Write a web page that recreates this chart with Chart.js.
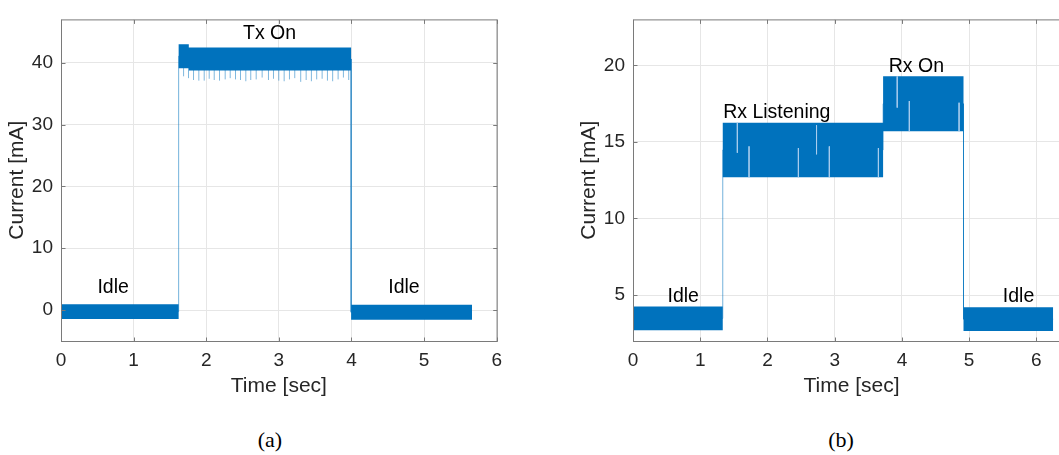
<!DOCTYPE html>
<html>
<head>
<meta charset="utf-8">
<title>Current draw</title>
<script src="https://cdn.jsdelivr.net/npm/chart.js@4.4.1/dist/chart.umd.min.js"></script>
<style>
    html, body { margin: 0; padding: 0; background: #fff; width: 1059px; height: 455px; overflow: hidden; }
    .panel { position: absolute; top: 0; }
    #chartA { left: 0; }
    #chartB { left: 572px; }
    .caption {
        position: absolute; top: 428px; width: 100px; text-align: center;
        font-family: "Liberation Serif", "Times New Roman", serif; font-size: 22px; line-height: 24px; color: #000;
    }
</style>
</head>
<body>
<canvas id="chartA" class="panel" width="510" height="400"></canvas>
<canvas id="chartB" class="panel" width="498" height="400"></canvas>
<div class="caption" style="left:220px">(a)</div>
<div class="caption" style="left:791px">(b)</div>

<script>
// ========================================
// (a) Transmit - current levels per state
// ========================================
const aSegStart = [0, 1.62, 1.76, 3.995];
const aSegEnd   = [1.62, 1.76, 3.995, 5.66];
const aSegLow   = [-1.45, 39.1, 38.75, -1.55];
const aSegHigh  = [0.95, 43.0, 42.45, 0.85];

// short downward glitches during Tx
const aSpikeTime  = [1.688, 1.756, 1.825, 1.898, 1.972, 2.041, 2.110, 2.183, 2.261, 2.330, 2.403,
                     2.472, 2.545, 2.613, 2.688, 2.770, 2.857, 2.926, 2.999, 3.073, 3.146, 3.219,
                     3.301, 3.376, 3.448, 3.521, 3.596, 3.669, 3.741, 3.816, 3.889, 3.962];
const aSpikeValue = [37.8, 37.5, 37.2, 37.1, 37.1, 37.4, 37.2, 37.1, 37.3, 37.5, 37.3,
                     37.2, 37.0, 37.2, 37.3, 37.6, 37.2, 37.4, 37.1, 37.0, 37.3, 37.5,
                     36.9, 37.2, 37.0, 37.3, 37.4, 37.1, 37.0, 37.3, 37.6, 37.2];

const aXTicks = [0, 1, 2, 3, 4, 5, 6];
const aYTicks = [0, 10, 20, 30, 40];
const aLabels = ['Tx On', 'Idle', 'Idle'];
const aLabelX = [2.872, 0.718, 4.723];
const aLabelY = [43.9, 2.8, 2.8];

// ========================================
// (b) Receive - current levels per state
// ========================================
const bSegStart = [0, 1.335, 3.72, 4.916];
const bSegEnd   = [1.335, 3.72, 4.916, 6.25];
const bSegLow   = [2.7, 12.7, 15.7, 2.65];
const bSegHigh  = [4.25, 16.25, 19.28, 4.2];

// pale streaks inside the Rx bands
const bStreakTime   = [1.552, 1.726, 2.46, 2.73, 2.92, 3.65, 3.93, 4.11, 4.85];
const bStreakTop    = [16.25, 14.71, 14.6, 16.09, 14.71, 14.6, 19.28, 17.67, 17.56];
const bStreakBottom = [14.29, 12.7, 12.7, 14.19, 12.7, 12.7, 17.24, 15.7, 15.7];

const bXTicks = [0, 1, 2, 3, 4, 5, 6];
const bYTicks = [5, 10, 15, 20];
const bLabels = ['Idle', 'Rx Listening', 'Rx On', 'Idle'];
const bLabelX = [0.747, 2.139, 4.215, 5.734];
const bLabelY = [4.53, 16.56, 19.54, 4.53];

const FONT = '"Liberation Sans", Arial, Helvetica, sans-serif';
const BLUE = '#0072BD';
const AXIS_GREY = '#262626';

// Upper / lower envelope of the noisy trace (step shaped), filled between,
// plus the thin trace that shows the switching edges
function buildBands(segStart, segEnd, segLow, segHigh) {
    const upper = [], lower = [], trace = [];
    segStart.forEach((s, i) => {
        upper.push({ x: s, y: segHigh[i] }, { x: segEnd[i], y: segHigh[i] });
        lower.push({ x: s, y: segLow[i] }, { x: segEnd[i], y: segLow[i] });
        const mid = (segLow[i] + segHigh[i]) / 2;
        trace.push({ x: s, y: mid }, { x: segEnd[i], y: mid });
    });
    return [
        { data: upper, borderColor: 'rgba(0,0,0,0)', borderWidth: 1, pointRadius: 0, fill: false, order: 1 },
        { data: lower, borderColor: 'rgba(0,0,0,0)', borderWidth: 1, pointRadius: 0, fill: '-1', backgroundColor: BLUE, order: 1 },
        { data: trace, borderColor: 'rgba(0, 114, 189, 0.55)', borderWidth: 1, pointRadius: 0, fill: false, order: 3 }
    ];
}

// vertical line pieces separated by gaps
function buildTickLines(times, from, to, color, order) {
    const pts = [];
    times.forEach((t, i) => {
        pts.push({ x: t, y: from[i] }, { x: t, y: to[i] }, { x: t, y: null });
    });
    return {
        data: pts,
        borderColor: color,
        borderWidth: 1,
        pointRadius: 0,
        fill: false,
        spanGaps: false,
        order: order
    };
}

// MATLAB style box, inward ticks and the text annotations
function overlay(xTicks, yTicks, texts, tx, ty) {
    return {
        id: 'overlay',
        afterDatasetsDraw(chart) {
            const { ctx, chartArea: area, scales: { x, y } } = chart;
            ctx.save();
            ctx.strokeStyle = '#7a7a7a';
            ctx.lineWidth = 1;
            const L = area.left + 0.5, R = area.right + 0.5, T = area.top + 0.5, B = area.bottom + 0.5;
            ctx.strokeRect(L, T, R - L, B - T);
            ctx.beginPath();
            xTicks.forEach(v => {
                const px = Math.round(x.getPixelForValue(v)) + 0.5;
                ctx.moveTo(px, B); ctx.lineTo(px, B - 4);
                ctx.moveTo(px, T); ctx.lineTo(px, T + 4);
            });
            yTicks.forEach(v => {
                const py = Math.round(y.getPixelForValue(v)) + 0.5;
                ctx.moveTo(L, py); ctx.lineTo(L + 4, py);
                ctx.moveTo(R, py); ctx.lineTo(R - 4, py);
            });
            ctx.stroke();

            ctx.fillStyle = '#000';
            ctx.font = '19.5px ' + FONT;
            ctx.textAlign = 'center';
            ctx.textBaseline = 'alphabetic';
            texts.forEach((txt, i) => {
                ctx.fillText(txt, x.getPixelForValue(tx[i]), y.getPixelForValue(ty[i]));
            });
            ctx.restore();
        }
    };
}

function makeChart(id, datasets, xMax, yMin, yMax, xTicks, yTicks, padRight, plugin) {
    return new Chart(document.getElementById(id), {
        type: 'line',
        data: { datasets: datasets },
        options: {
            responsive: false,
            animation: false,
            devicePixelRatio: 1,
            layout: { padding: { left: 0, right: padRight, top: 9, bottom: 0 } },
            plugins: { legend: { display: false }, tooltip: { enabled: false } },
            scales: {
                x: {
                    type: 'linear',
                    min: 0,
                    max: xMax,
                    afterBuildTicks: s => { s.ticks = xTicks.map(v => ({ value: v })); },
                    afterFit: s => { s.height = 59; },
                    grid: { color: '#e6e6e6', drawTicks: false },
                    border: { display: false },
                    ticks: { font: { family: FONT, size: 19 }, color: AXIS_GREY, padding: 8, maxRotation: 0 },
                    title: {
                        display: true, text: 'Time [sec]', color: AXIS_GREY,
                        font: { family: FONT, size: 21 }, padding: { top: 0, bottom: 1 }
                    }
                },
                y: {
                    min: yMin,
                    max: yMax,
                    afterBuildTicks: s => { s.ticks = yTicks.map(v => ({ value: v })); },
                    afterFit: s => { s.width = 61; },
                    grid: { color: '#e6e6e6', drawTicks: false },
                    border: { display: false },
                    ticks: { font: { family: FONT, size: 19 }, color: AXIS_GREY, padding: 8 },
                    title: {
                        display: true, text: 'Current [mA]', color: AXIS_GREY,
                        font: { family: FONT, size: 21 }, padding: { top: 5, bottom: 0 }
                    }
                }
            }
        },
        plugins: [plugin]
    });
}

document.addEventListener('DOMContentLoaded', () => {
    // (a)
    const aSpikeBase = aSpikeTime.map(() => 40);
    const aSets = buildBands(aSegStart, aSegEnd, aSegLow, aSegHigh);
    aSets.push(buildTickLines(aSpikeTime, aSpikeValue, aSpikeBase, 'rgba(0, 114, 189, 0.5)', 2));
    makeChart('chartA', aSets, 6, -5, 47, aXTicks, aYTicks, 13,
        overlay(aXTicks, aYTicks, aLabels, aLabelX, aLabelY));

    // (b)
    const bSets = buildBands(bSegStart, bSegEnd, bSegLow, bSegHigh);
    bSets.push(buildTickLines(bStreakTime, bStreakTop, bStreakBottom, 'rgba(170, 206, 238, 0.85)', 0));
    makeChart('chartB', bSets, 6.5, 2, 23, bXTicks, bYTicks, 0,
        overlay(bXTicks, bYTicks, bLabels, bLabelX, bLabelY));
});
</script>
</body>
</html>
